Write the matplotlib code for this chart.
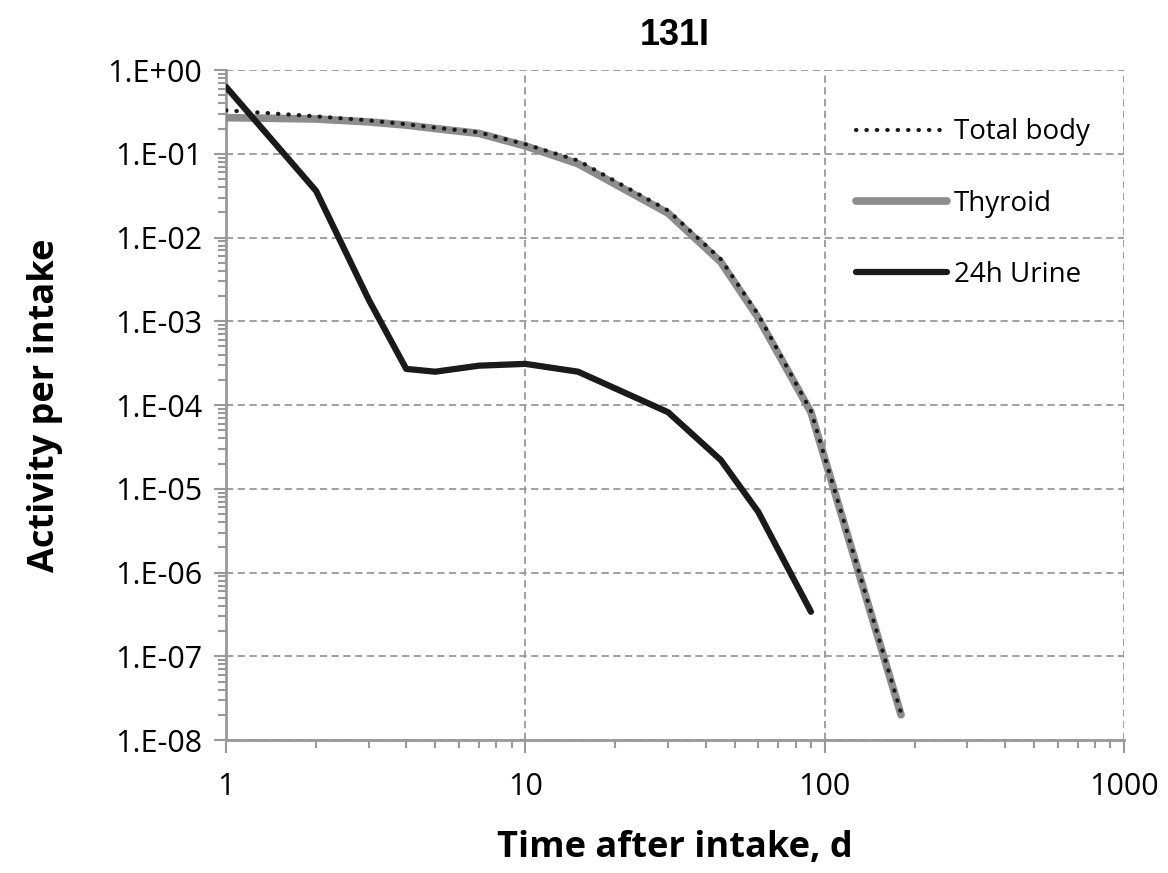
import numpy as np
import matplotlib
matplotlib.use('Agg')
import matplotlib.pyplot as plt
from matplotlib.ticker import FuncFormatter, LogLocator, NullFormatter

# 数据
t_body = [1, 2, 3, 4, 5, 7, 10, 15, 30, 45, 60, 90, 180]
total_body = [0.33, 0.28, 0.25, 0.225, 0.205, 0.18, 0.13, 0.083, 0.021, 0.0055, 0.0012, 8.5e-5, 2.1e-8]
thyroid = [0.27, 0.26, 0.24, 0.22, 0.20, 0.175, 0.124, 0.076, 0.0195, 0.0051, 0.0011, 8.2e-5, 2.0e-8]

t_urine = [1, 2, 3, 4, 5, 7, 10, 15, 30, 45, 60, 90]
urine = [0.63, 0.036, 1.8e-3, 2.7e-4, 2.5e-4, 2.95e-4, 3.1e-4, 2.5e-4, 8.2e-5, 2.2e-5, 5.3e-6, 3.4e-7]

title_txt = '131I'
x_label = 'Time after intake, d'
y_label = 'Activity per intake'

grey = '#8c8c8c'
dark = '#1a1a1a'

fig = plt.figure(figsize=(11.68, 8.73), dpi=100)
ax = fig.add_axes([0.1935, 0.1523, 0.7688, 0.7675])

ax.plot(t_body, thyroid, color=grey, lw=5.5, solid_capstyle='round', solid_joinstyle='round',
        label='Thyroid', zorder=3)
ax.plot(t_body, total_body, color=dark, lw=3, linestyle=(0, (0.1, 2.4)), dash_capstyle='round',
        label='Total body', zorder=4)
ax.plot(t_urine, urine, color=dark, lw=4.5, solid_capstyle='round', solid_joinstyle='round',
        label='24h Urine', zorder=5)

ax.set_xscale('log')
ax.set_yscale('log')
ax.set_xlim(1, 1000)
ax.set_ylim(1e-8, 1)

ax.yaxis.set_major_locator(LogLocator(base=10, numticks=20))
ax.yaxis.set_minor_locator(LogLocator(base=10, subs=np.arange(2, 10), numticks=20))
ax.yaxis.set_minor_formatter(NullFormatter())
ax.yaxis.set_major_formatter(FuncFormatter(lambda v, p: f"1.E{int(round(np.log10(v))):+03d}"))
ax.xaxis.set_major_formatter(FuncFormatter(lambda v, p: f"{int(round(v))}"))
ax.xaxis.set_minor_formatter(NullFormatter())

ax.grid(True, which='major', color='#999999', linestyle=(0, (4, 2.5)), linewidth=1.3)
for s in ['top', 'right']:
    ax.spines[s].set_visible(False)
for s in ['left', 'bottom']:
    ax.spines[s].set_color('#999999')
    ax.spines[s].set_linewidth(2)

ax.tick_params(which='both', direction='out', color='#999999', width=1.5)
ax.tick_params(which='major', length=9, labelsize=22, pad=8)
ax.tick_params(which='minor', length=6)
for lab in ax.get_xticklabels() + ax.get_yticklabels():
    lab.set_fontfamily('Open Sans')
ax.tick_params(axis='x', pad=14)

ax.set_xlabel(x_label, fontsize=26, fontweight='bold', family='Open Sans', labelpad=20)
ax.set_ylabel(y_label, fontsize=26, fontweight='bold', family='Open Sans', labelpad=32)
ax.set_title(title_txt, fontsize=26, fontweight='bold', family='Liberation Sans', pad=18)

h, l = ax.get_legend_handles_labels()
order = [1, 0, 2]
leg = ax.legend([h[i] for i in order], [l[i] for i in order], loc='upper right',
                bbox_to_anchor=(0.99, 0.965), frameon=False,
                handlelength=3.3, labelspacing=1.55, handletextpad=0.25,
                prop={'family': 'Open Sans', 'size': 20})

plt.savefig('out.png', dpi=100)
plt.close()
